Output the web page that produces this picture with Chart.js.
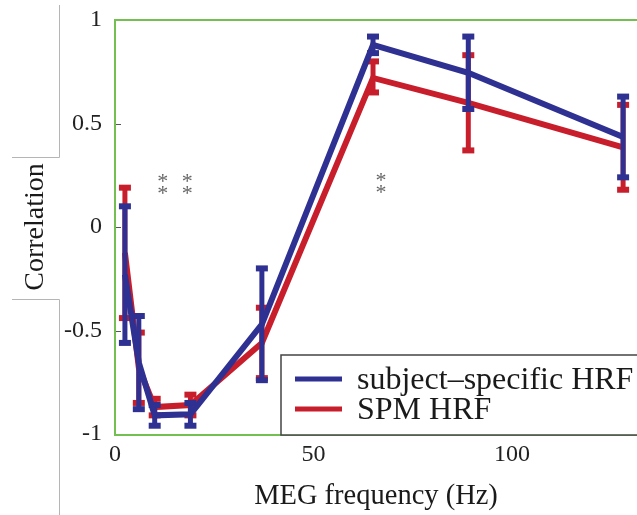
<!DOCTYPE html>
<html>
<head>
<meta charset="utf-8">
<script src="https://cdn.jsdelivr.net/npm/chart.js@4.4.0/dist/chart.umd.min.js"></script>
<style>
html, body { margin: 0; padding: 0; background: #fff; }
</style>
</head>
<body>
<canvas id="corrChart" width="637" height="515"></canvas>
<script>
// MEG frequencies (Hz)
const freqs = [2.5, 6, 10, 19, 37, 65, 89, 128];

// subject-specific HRF
const subjMean = [-0.23, -0.655, -0.91, -0.905, -0.47, 0.88, 0.745, 0.435];
const subjLow  = [-0.56, -0.88, -0.96, -0.96, -0.74, 0.84, 0.57, 0.24];
const subjHigh = [0.10, -0.43, -0.86, -0.85, -0.20, 0.92, 0.92, 0.63];

// SPM HRF
const spmMean = [-0.125, -0.68, -0.87, -0.86, -0.56, 0.72, 0.60, 0.385];
const spmLow  = [-0.44, -0.85, -0.91, -0.91, -0.73, 0.65, 0.37, 0.18];
const spmHigh = [0.19, -0.51, -0.83, -0.81, -0.39, 0.80, 0.83, 0.59];

const xTicks = [0, 50, 100];
const yTicks = [-1, -0.5, 0, 0.5, 1];

// significance markers (**)
const sigFreqs = [12, 18.2, 67];
const sigLevels = [0.21, 0.21, 0.215];

const BLUE = '#2e3192';
const RED = '#c81e2c';
const GREEN = '#74bf52';
const SERIF = '"Liberation Serif", "Times New Roman", serif';

const errorBars = {
    id: 'errorBars',
    beforeDatasetDraw(chart, args) {
        const ds = chart.data.datasets[args.index];
        if (!ds.errLow) return;
        const ctx = chart.ctx;
        const xs = chart.scales.x, ys = chart.scales.y;
        ctx.save();
        ctx.strokeStyle = ds.borderColor;
        ctx.lineCap = 'butt';
        freqs.forEach((f, i) => {
            const px = xs.getPixelForValue(f);
            const lo = ys.getPixelForValue(ds.errLow[i]);
            const hi = ys.getPixelForValue(ds.errHigh[i]);
            ctx.lineWidth = 5;
            ctx.beginPath();
            ctx.moveTo(px, lo);
            ctx.lineTo(px, hi);
            ctx.stroke();
            ctx.lineWidth = 6;
            [lo, hi].forEach(py => {
                ctx.beginPath();
                ctx.moveTo(px - 6, py);
                ctx.lineTo(px + 6, py);
                ctx.stroke();
            });
        });
        ctx.restore();
    }
};

const frame = {
    id: 'frame',
    beforeDatasetsDraw(chart) {
        const {ctx, chartArea: a} = chart;
        const xs = chart.scales.x, ys = chart.scales.y;
        ctx.save();
        // inward tick marks
        ctx.strokeStyle = '#555';
        ctx.lineWidth = 1;
        [-0.5, 0, 0.5].forEach(v => {
            const py = Math.round(ys.getPixelForValue(v)) + 0.5;
            ctx.beginPath();
            ctx.moveTo(a.left, py);
            ctx.lineTo(a.left + 6, py);
            ctx.stroke();
        });
        [50, 100].forEach(v => {
            const px = Math.round(xs.getPixelForValue(v)) + 0.5;
            ctx.beginPath();
            ctx.moveTo(px, a.bottom);
            ctx.lineTo(px, a.bottom - 6);
            ctx.stroke();
        });
        // green axes box
        ctx.strokeStyle = GREEN;
        ctx.lineWidth = 2;
        ctx.beginPath();
        ctx.moveTo(a.right + 2, a.top);
        ctx.lineTo(a.left, a.top);
        ctx.lineTo(a.left, a.bottom + 1);
        ctx.lineTo(a.right + 2, a.bottom + 1);
        ctx.stroke();
        ctx.restore();
    },
    afterDraw(chart) {
        const {ctx, chartArea: a} = chart;
        const xs = chart.scales.x, ys = chart.scales.y;
        ctx.save();
        // ** markers
        ctx.fillStyle = '#666';
        ctx.font = '22px ' + SERIF;
        ctx.textAlign = 'center';
        ctx.textBaseline = 'middle';
        sigFreqs.forEach((f, i) => {
            const px = xs.getPixelForValue(f);
            const py = ys.getPixelForValue(sigLevels[i]);
            ctx.fillText('*', px, py - 1);
            ctx.fillText('*', px, py + 11);
        });
        // legend box
        const lx = 281, ly = 355;
        ctx.fillStyle = '#fff';
        ctx.fillRect(lx, ly, 640 - lx, a.bottom + 1 - ly);
        ctx.strokeStyle = '#444';
        ctx.lineWidth = 1.5;
        ctx.strokeRect(lx, ly, 640 - lx, a.bottom + 1 - ly);
        chart.data.datasets.forEach((ds, i) => {
            const y = 379 + i * 30;
            ctx.strokeStyle = ds.borderColor;
            ctx.lineWidth = 5;
            ctx.beginPath();
            ctx.moveTo(295, y);
            ctx.lineTo(342, y);
            ctx.stroke();
            ctx.fillStyle = '#1a1a1a';
            ctx.font = '32px ' + SERIF;
            ctx.textAlign = 'left';
            ctx.textBaseline = 'middle';
            ctx.fillText(ds.label, 357, y + 2);
        });
        // gray cut lines at the left
        ctx.strokeStyle = '#b5b5b5';
        ctx.lineWidth = 1;
        ctx.beginPath();
        ctx.moveTo(59.5, 5);
        ctx.lineTo(59.5, 157.5);
        ctx.lineTo(12, 157.5);
        ctx.moveTo(12, 299.5);
        ctx.lineTo(59.5, 299.5);
        ctx.lineTo(59.5, 515);
        ctx.stroke();
        ctx.restore();
    }
};

new Chart(document.getElementById('corrChart').getContext('2d'), {
    type: 'line',
    data: {
        datasets: [
            {
                label: 'subject\u2013specific HRF',
                data: freqs.map((f, i) => ({x: f, y: subjMean[i]})),
                errLow: subjLow,
                errHigh: subjHigh,
                borderColor: BLUE,
                borderWidth: 6,
                pointRadius: 0,
                tension: 0,
                fill: false
            },
            {
                label: 'SPM HRF',
                data: freqs.map((f, i) => ({x: f, y: spmMean[i]})),
                errLow: spmLow,
                errHigh: spmHigh,
                borderColor: RED,
                borderWidth: 6,
                pointRadius: 0,
                tension: 0,
                fill: false
            }
        ]
    },
    options: {
        responsive: false,
        animation: false,
        devicePixelRatio: 1,
        layout: { padding: { top: 20, left: 0, right: 0, bottom: 0 } },
        plugins: {
            legend: { display: false },
            tooltip: { enabled: false }
        },
        scales: {
            x: {
                type: 'linear',
                min: 0,
                max: 131.5,
                afterBuildTicks: s => { s.ticks = xTicks.map(v => ({value: v})); },
                afterFit: s => { s.height = 81; },
                grid: { display: false, drawTicks: false },
                border: { display: false },
                ticks: {
                    color: '#222',
                    font: { family: SERIF, size: 24 },
                    padding: 6,
                    maxRotation: 0,
                    callback: v => String(v)
                },
                title: {
                    display: true,
                    text: 'MEG frequency (Hz)',
                    color: '#1a1a1a',
                    font: { family: SERIF, size: 28.5 },
                    padding: { top: 0, bottom: 1 }
                }
            },
            y: {
                min: -1,
                max: 1,
                afterBuildTicks: s => { s.ticks = yTicks.map(v => ({value: v})); },
                afterFit: s => { s.width = 115; s.paddingTop = 0; s.paddingBottom = 0; },
                grid: { display: false, drawTicks: false },
                border: { display: false },
                ticks: {
                    color: '#222',
                    font: { family: SERIF, size: 24 },
                    padding: 13,
                    callback: v => String(v)
                },
                title: {
                    display: true,
                    text: 'Correlation',
                    color: '#1a1a1a',
                    font: { family: SERIF, size: 28 },
                    padding: { top: 19, bottom: 0 }
                }
            }
        }
    },
    plugins: [errorBars, frame]
});
</script>
</body>
</html>
